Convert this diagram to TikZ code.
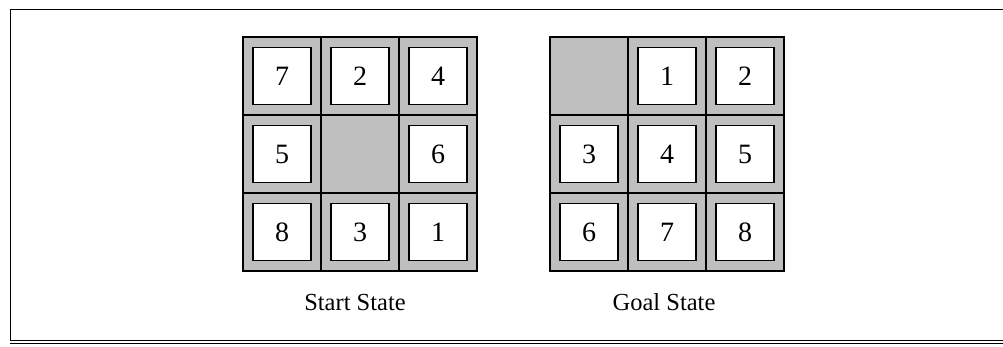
\documentclass[tikz,border=0pt]{standalone}
\usepackage{fontspec}
\setmainfont{Liberation Serif}
\begin{document}
\begin{tikzpicture}[x=1pt,y=1pt,
  cellbox/.style={draw=black,line width=2.4pt,fill=gray!50,minimum size=78pt,inner sep=0pt,outer sep=0pt},
  tilebox/.style={draw=black,line width=1.3pt,fill=white,minimum width=58pt,minimum height=57pt,inner sep=0pt,font=\fontsize{28}{32}\selectfont},
  caption/.style={font=\fontsize{24.5}{28}\selectfont,anchor=base}]
\useasboundingbox (0,0) rectangle (1003,346);
% frame
\draw[line width=1pt] (1003,336) -- (10,336) -- (10,5);
\draw[line width=1pt] (10,5.5) -- (1003,5.5);
\draw[line width=1pt] (10,2.7) -- (1003,2.7);
% start state
\foreach \r in {0,1,2}{
  \foreach \c in {0,1,2}{
    \node[cellbox] (s\r\c) at (282+78*\c, 270-78*\r) {};
  }
}
\foreach \r/\c/\t in {0/0/7,0/1/2,0/2/4,1/0/5,1/2/6,2/0/8,2/1/3,2/2/1}{
  \node[tilebox] (st\r\c) at (s\r\c) {\t};
}
% goal state
\foreach \r in {0,1,2}{
  \foreach \c in {0,1,2}{
    \node[cellbox] (g\r\c) at (589+78*\c, 270-78*\r) {};
  }
}
\foreach \r/\c/\t in {0/1/1,0/2/2,1/0/3,1/1/4,1/2/5,2/0/6,2/1/7,2/2/8}{
  \node[tilebox] (gt\r\c) at (g\r\c) {\t};
}
\draw[line width=2.8pt] (s00.north west) rectangle (s22.south east);
\draw[line width=2.8pt] (g00.north west) rectangle (g22.south east);
\node[caption] (slab) at (355,36) {Start State};
\node[caption] (glab) at (664,36) {Goal State};
\end{tikzpicture}
\end{document}
